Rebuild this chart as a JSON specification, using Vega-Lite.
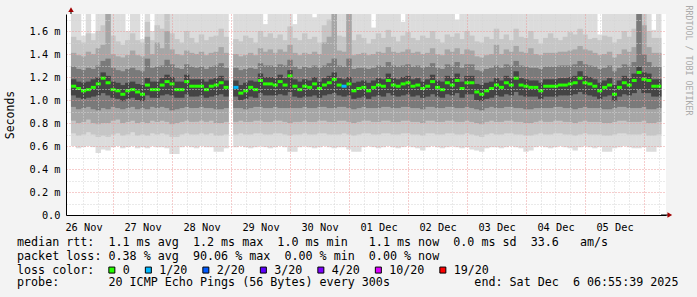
{
"$schema": "https://vega.github.io/schema/vega-lite/v6.json",
"width": 600, "height": 201,
"autosize": {"type": "none"},
"padding": {"left": 66, "top": 14, "right": 31, "bottom": 82},
"background": "#f3f3f3",
"view": {"fill": "#ffffff", "stroke": null},
"config": {"font": "DejaVu Sans Mono"},
"title": {
 "text": [
  "median rtt:\u00a0\u00a01.1 ms avg\u00a0\u00a01.2 ms max\u00a0\u00a01.0 ms min\u00a0\u00a0\u00a01.1 ms now\u00a0\u00a00.0 ms sd\u00a0\u00a033.6\u00a0\u00a0\u00a0am/s",
  "packet loss: 0.38 % avg\u00a0\u00a090.06 % max\u00a0\u00a00.00 % min\u00a0\u00a00.00 % now"
 ],
 "subtitle": "probe:\u00a0\u00a0\u00a0\u00a0\u00a0\u00a0\u00a020 ICMP Echo Pings (56 Bytes) every 300s\u00a0\u00a0\u00a0\u00a0\u00a0\u00a0\u00a0\u00a0\u00a0\u00a0\u00a0\u00a0end: Sat Dec\u00a0\u00a06 06:55:39 2025",
 "orient": "bottom", "anchor": "start", "frame": "group", "dx": -49, "offset": -40,
 "font": "DejaVu Sans Mono", "fontSize": 11.7, "fontWeight": "normal", "color": "#000000", "lineHeight": 14,
 "subtitleFont": "DejaVu Sans Mono", "subtitleFontSize": 11.7, "subtitleFontWeight": "normal", "subtitleColor": "#000000",
 "subtitleLineHeight": 14, "subtitlePadding": 14
},
"data": {"values": [
{"t":8,"m":1.12,"p":0,"a1":0.60,"a2":0.71,"a3":0.82,"a4":0.94,"a5":1.04,"b5":1.18,"b4":1.29,"b3":1.41,"b2":1.55,"b1":1.8},
{"t":10,"m":1.10,"p":0,"a1":0.58,"a2":0.69,"a3":0.80,"a4":0.92,"a5":1.02,"b5":1.16,"b4":1.27,"b3":1.39,"b2":1.52,"b1":1.8},
{"t":12,"m":1.08,"p":0,"a1":0.59,"a2":0.70,"a3":0.81,"a4":0.93,"a5":1.01,"b5":1.15,"b4":1.26,"b3":1.38,"b2":1.50,"b1":1.56},
{"t":14,"m":1.09,"p":0,"a1":0.60,"a2":0.72,"a3":0.83,"a4":0.94,"a5":1.02,"b5":1.16,"b4":1.28,"b3":1.42,"b2":1.58,"b1":1.8},
{"t":16,"m":1.11,"p":0,"a1":0.59,"a2":0.70,"a3":0.80,"a4":0.92,"a5":1.03,"b5":1.18,"b4":1.27,"b3":1.40,"b2":1.52,"b1":1.58},
{"t":18,"m":1.14,"p":0,"a1":0.54,"a2":0.68,"a3":0.79,"a4":0.91,"a5":1.04,"b5":1.20,"b4":1.30,"b3":1.45,"b2":1.60,"b1":1.8},
{"t":20,"m":1.19,"p":0,"a1":0.57,"a2":0.69,"a3":0.80,"a4":0.93,"a5":1.06,"b5":1.24,"b4":1.34,"b3":1.48,"b2":1.65,"b1":1.8},
{"t":22,"m":1.15,"p":0,"a1":0.56,"a2":0.68,"a3":0.80,"a4":0.92,"a5":1.04,"b5":1.21,"b4":1.36,"b3":1.8,"b2":1.8,"b1":1.8},
{"t":24,"m":1.09,"p":0,"a1":0.59,"a2":0.70,"a3":0.82,"a4":0.94,"a5":1.02,"b5":1.16,"b4":1.28,"b3":1.40,"b2":1.56,"b1":1.8},
{"t":26,"m":1.08,"p":0,"a1":0.60,"a2":0.71,"a3":0.83,"a4":0.93,"a5":1.01,"b5":1.15,"b4":1.26,"b3":1.38,"b2":1.51,"b1":1.8},
{"t":28,"m":1.05,"p":0,"a1":0.58,"a2":0.69,"a3":0.80,"a4":0.92,"a5":0.99,"b5":1.13,"b4":1.25,"b3":1.37,"b2":1.48,"b1":1.8},
{"t":30,"m":1.08,"p":0,"a1":0.59,"a2":0.70,"a3":0.81,"a4":0.93,"a5":1.01,"b5":1.15,"b4":1.27,"b3":1.39,"b2":1.52,"b1":1.60},
{"t":32,"m":1.09,"p":0,"a1":0.60,"a2":0.72,"a3":0.82,"a4":0.94,"a5":1.02,"b5":1.16,"b4":1.28,"b3":1.43,"b2":1.58,"b1":1.8},
{"t":34,"m":1.07,"p":0,"a1":0.58,"a2":0.69,"a3":0.80,"a4":0.92,"a5":1.00,"b5":1.14,"b4":1.26,"b3":1.39,"b2":1.52,"b1":1.8},
{"t":36,"m":1.05,"p":0,"a1":0.59,"a2":0.70,"a3":0.81,"a4":0.93,"a5":0.99,"b5":1.13,"b4":1.25,"b3":1.38,"b2":1.50,"b1":1.53},
{"t":38,"m":1.13,"p":0,"a1":0.58,"a2":0.69,"a3":0.80,"a4":0.92,"a5":1.04,"b5":1.19,"b4":1.36,"b3":1.55,"b2":1.68,"b1":1.8},
{"t":40,"m":1.09,"p":0,"a1":0.60,"a2":0.71,"a3":0.82,"a4":0.94,"a5":1.02,"b5":1.16,"b4":1.28,"b3":1.40,"b2":1.52,"b1":1.60},
{"t":42,"m":1.09,"p":0,"a1":0.59,"a2":0.70,"a3":0.81,"a4":0.93,"a5":1.02,"b5":1.16,"b4":1.29,"b3":1.50,"b2":1.65,"b1":1.8},
{"t":44,"m":1.13,"p":0,"a1":0.59,"a2":0.71,"a3":0.82,"a4":0.94,"a5":1.04,"b5":1.19,"b4":1.30,"b3":1.45,"b2":1.62,"b1":1.8},
{"t":46,"m":1.16,"p":0,"a1":0.58,"a2":0.70,"a3":0.81,"a4":0.93,"a5":1.05,"b5":1.22,"b4":1.35,"b3":1.60,"b2":1.8,"b1":1.8},
{"t":48,"m":1.14,"p":0,"a1":0.53,"a2":0.68,"a3":0.79,"a4":0.91,"a5":1.04,"b5":1.20,"b4":1.31,"b3":1.44,"b2":1.58,"b1":1.8},
{"t":50,"m":1.09,"p":0,"a1":0.53,"a2":0.68,"a3":0.80,"a4":0.92,"a5":1.02,"b5":1.16,"b4":1.28,"b3":1.40,"b2":1.53,"b1":1.8},
{"t":52,"m":1.09,"p":0,"a1":0.59,"a2":0.70,"a3":0.81,"a4":0.93,"a5":1.02,"b5":1.16,"b4":1.27,"b3":1.39,"b2":1.50,"b1":1.8},
{"t":54,"m":1.16,"p":0,"a1":0.60,"a2":0.71,"a3":0.82,"a4":0.94,"a5":1.05,"b5":1.22,"b4":1.31,"b3":1.43,"b2":1.60,"b1":1.8},
{"t":56,"m":1.12,"p":0,"a1":0.59,"a2":0.70,"a3":0.81,"a4":0.93,"a5":1.03,"b5":1.18,"b4":1.29,"b3":1.41,"b2":1.54,"b1":1.8},
{"t":58,"m":1.12,"p":0,"a1":0.58,"a2":0.70,"a3":0.81,"a4":0.93,"a5":1.03,"b5":1.18,"b4":1.28,"b3":1.40,"b2":1.50,"b1":1.8},
{"t":60,"m":1.12,"p":0,"a1":0.60,"a2":0.71,"a3":0.82,"a4":0.94,"a5":1.04,"b5":1.18,"b4":1.29,"b3":1.42,"b2":1.57,"b1":1.8},
{"t":62,"m":1.09,"p":0,"a1":0.59,"a2":0.70,"a3":0.81,"a4":0.93,"a5":1.02,"b5":1.16,"b4":1.27,"b3":1.39,"b2":1.52,"b1":1.8},
{"t":64,"m":1.12,"p":0,"a1":0.59,"a2":0.71,"a3":0.82,"a4":0.93,"a5":1.03,"b5":1.18,"b4":1.29,"b3":1.41,"b2":1.55,"b1":1.8},
{"t":66,"m":1.13,"p":0,"a1":0.55,"a2":0.69,"a3":0.80,"a4":0.92,"a5":1.04,"b5":1.19,"b4":1.30,"b3":1.42,"b2":1.56,"b1":1.8},
{"t":68,"m":1.15,"p":0,"a1":0.55,"a2":0.69,"a3":0.80,"a4":0.92,"a5":1.05,"b5":1.21,"b4":1.32,"b3":1.46,"b2":1.62,"b1":1.8},
{"t":70,"m":1.11,"p":0,"a1":0.58,"a2":0.70,"a3":0.81,"a4":0.93,"a5":1.03,"b5":1.17,"b4":1.28,"b3":1.41,"b2":1.55,"b1":1.8},
{"t":74,"m":1.11,"p":1,"a1":0.59,"a2":0.70,"a3":0.81,"a4":0.93,"a5":1.03,"b5":1.17,"b4":1.28,"b3":1.40,"b2":1.53,"b1":1.8},
{"t":76,"m":1.06,"p":0,"a1":0.60,"a2":0.71,"a3":0.82,"a4":0.93,"a5":1.00,"b5":1.13,"b4":1.26,"b3":1.38,"b2":1.51,"b1":1.8},
{"t":78,"m":1.08,"p":0,"a1":0.59,"a2":0.70,"a3":0.81,"a4":0.92,"a5":1.01,"b5":1.15,"b4":1.27,"b3":1.39,"b2":1.56,"b1":1.8},
{"t":80,"m":1.11,"p":0,"a1":0.58,"a2":0.70,"a3":0.81,"a4":0.93,"a5":1.03,"b5":1.17,"b4":1.28,"b3":1.41,"b2":1.54,"b1":1.8},
{"t":82,"m":1.09,"p":0,"a1":0.59,"a2":0.71,"a3":0.82,"a4":0.94,"a5":1.02,"b5":1.16,"b4":1.27,"b3":1.39,"b2":1.50,"b1":1.8},
{"t":84,"m":1.17,"p":0,"a1":0.60,"a2":0.71,"a3":0.82,"a4":0.94,"a5":1.06,"b5":1.23,"b4":1.32,"b3":1.45,"b2":1.60,"b1":1.8},
{"t":86,"m":1.14,"p":0,"a1":0.59,"a2":0.70,"a3":0.81,"a4":0.93,"a5":1.04,"b5":1.20,"b4":1.30,"b3":1.42,"b2":1.55,"b1":1.66},
{"t":88,"m":1.14,"p":0,"a1":0.58,"a2":0.70,"a3":0.81,"a4":0.93,"a5":1.04,"b5":1.20,"b4":1.30,"b3":1.44,"b2":1.58,"b1":1.8},
{"t":90,"m":1.13,"p":0,"a1":0.59,"a2":0.71,"a3":0.82,"a4":0.94,"a5":1.04,"b5":1.19,"b4":1.29,"b3":1.41,"b2":1.54,"b1":1.8},
{"t":92,"m":1.16,"p":0,"a1":0.60,"a2":0.71,"a3":0.82,"a4":0.93,"a5":1.05,"b5":1.22,"b4":1.31,"b3":1.44,"b2":1.57,"b1":1.8},
{"t":94,"m":1.13,"p":0,"a1":0.59,"a2":0.70,"a3":0.81,"a4":0.93,"a5":1.04,"b5":1.19,"b4":1.30,"b3":1.42,"b2":1.52,"b1":1.8},
{"t":96,"m":1.21,"p":0,"a1":0.55,"a2":0.69,"a3":0.80,"a4":0.93,"a5":1.07,"b5":1.26,"b4":1.35,"b3":1.48,"b2":1.64,"b1":1.8},
{"t":98,"m":1.12,"p":0,"a1":0.55,"a2":0.70,"a3":0.81,"a4":0.93,"a5":1.03,"b5":1.18,"b4":1.29,"b3":1.41,"b2":1.54,"b1":1.66},
{"t":100,"m":1.09,"p":0,"a1":0.59,"a2":0.70,"a3":0.81,"a4":0.93,"a5":1.02,"b5":1.16,"b4":1.27,"b3":1.39,"b2":1.52,"b1":1.8},
{"t":102,"m":1.12,"p":0,"a1":0.60,"a2":0.71,"a3":0.82,"a4":0.94,"a5":1.03,"b5":1.18,"b4":1.29,"b3":1.41,"b2":1.58,"b1":1.8},
{"t":104,"m":1.11,"p":0,"a1":0.59,"a2":0.70,"a3":0.81,"a4":0.93,"a5":1.03,"b5":1.17,"b4":1.28,"b3":1.40,"b2":1.53,"b1":1.8},
{"t":106,"m":1.14,"p":0,"a1":0.58,"a2":0.70,"a3":0.81,"a4":0.93,"a5":1.04,"b5":1.20,"b4":1.30,"b3":1.42,"b2":1.55,"b1":1.72},
{"t":108,"m":1.10,"p":0,"a1":0.59,"a2":0.71,"a3":0.82,"a4":0.94,"a5":1.02,"b5":1.16,"b4":1.28,"b3":1.40,"b2":1.50,"b1":1.8},
{"t":110,"m":1.13,"p":0,"a1":0.60,"a2":0.71,"a3":0.82,"a4":0.94,"a5":1.04,"b5":1.19,"b4":1.30,"b3":1.50,"b2":1.65,"b1":1.8},
{"t":112,"m":1.15,"p":0,"a1":0.59,"a2":0.70,"a3":0.81,"a4":0.93,"a5":1.05,"b5":1.21,"b4":1.32,"b3":1.55,"b2":1.70,"b1":1.8},
{"t":114,"m":1.18,"p":0,"a1":0.58,"a2":0.70,"a3":0.81,"a4":0.93,"a5":1.06,"b5":1.24,"b4":1.36,"b3":1.8,"b2":1.8,"b1":1.8},
{"t":116,"m":1.13,"p":0,"a1":0.59,"a2":0.70,"a3":0.82,"a4":0.94,"a5":1.04,"b5":1.19,"b4":1.30,"b3":1.43,"b2":1.56,"b1":1.8},
{"t":118,"m":1.12,"p":1,"a1":0.59,"a2":0.71,"a3":0.82,"a4":0.94,"a5":1.03,"b5":1.18,"b4":1.29,"b3":1.42,"b2":1.55,"b1":1.8},
{"t":120,"m":1.14,"p":0,"a1":0.57,"a2":0.70,"a3":0.81,"a4":0.93,"a5":1.04,"b5":1.20,"b4":1.36,"b3":1.8,"b2":1.8,"b1":1.8},
{"t":122,"m":1.08,"p":0,"a1":0.55,"a2":0.69,"a3":0.80,"a4":0.92,"a5":1.01,"b5":1.15,"b4":1.27,"b3":1.39,"b2":1.52,"b1":1.8},
{"t":124,"m":1.10,"p":0,"a1":0.55,"a2":0.70,"a3":0.81,"a4":0.93,"a5":1.02,"b5":1.16,"b4":1.28,"b3":1.40,"b2":1.57,"b1":1.8},
{"t":126,"m":1.11,"p":0,"a1":0.59,"a2":0.71,"a3":0.82,"a4":0.94,"a5":1.03,"b5":1.17,"b4":1.28,"b3":1.41,"b2":1.54,"b1":1.8},
{"t":128,"m":1.08,"p":0,"a1":0.60,"a2":0.71,"a3":0.82,"a4":0.93,"a5":1.01,"b5":1.15,"b4":1.27,"b3":1.39,"b2":1.49,"b1":1.8},
{"t":130,"m":1.11,"p":0,"a1":0.59,"a2":0.70,"a3":0.81,"a4":0.93,"a5":1.03,"b5":1.17,"b4":1.28,"b3":1.40,"b2":1.53,"b1":1.63},
{"t":132,"m":1.13,"p":0,"a1":0.58,"a2":0.70,"a3":0.81,"a4":0.93,"a5":1.04,"b5":1.19,"b4":1.30,"b3":1.42,"b2":1.58,"b1":1.8},
{"t":134,"m":1.12,"p":0,"a1":0.59,"a2":0.71,"a3":0.82,"a4":0.94,"a5":1.03,"b5":1.18,"b4":1.29,"b3":1.41,"b2":1.54,"b1":1.8},
{"t":136,"m":1.17,"p":0,"a1":0.60,"a2":0.71,"a3":0.82,"a4":0.94,"a5":1.06,"b5":1.23,"b4":1.33,"b3":1.46,"b2":1.61,"b1":1.8},
{"t":138,"m":1.13,"p":0,"a1":0.59,"a2":0.70,"a3":0.81,"a4":0.93,"a5":1.04,"b5":1.19,"b4":1.30,"b3":1.42,"b2":1.55,"b1":1.8},
{"t":140,"m":1.12,"p":0,"a1":0.58,"a2":0.70,"a3":0.81,"a4":0.93,"a5":1.03,"b5":1.18,"b4":1.29,"b3":1.41,"b2":1.51,"b1":1.8},
{"t":142,"m":1.14,"p":0,"a1":0.59,"a2":0.71,"a3":0.82,"a4":0.94,"a5":1.04,"b5":1.20,"b4":1.30,"b3":1.42,"b2":1.56,"b1":1.68},
{"t":144,"m":1.15,"p":0,"a1":0.60,"a2":0.71,"a3":0.82,"a4":0.94,"a5":1.05,"b5":1.21,"b4":1.31,"b3":1.44,"b2":1.59,"b1":1.8},
{"t":146,"m":1.12,"p":0,"a1":0.59,"a2":0.70,"a3":0.81,"a4":0.93,"a5":1.03,"b5":1.18,"b4":1.29,"b3":1.41,"b2":1.54,"b1":1.8},
{"t":148,"m":1.13,"p":0,"a1":0.58,"a2":0.70,"a3":0.81,"a4":0.93,"a5":1.04,"b5":1.19,"b4":1.30,"b3":1.42,"b2":1.52,"b1":1.8},
{"t":150,"m":1.10,"p":0,"a1":0.56,"a2":0.69,"a3":0.80,"a4":0.92,"a5":1.02,"b5":1.16,"b4":1.28,"b3":1.40,"b2":1.56,"b1":1.8},
{"t":152,"m":1.12,"p":0,"a1":0.59,"a2":0.71,"a3":0.82,"a4":0.94,"a5":1.03,"b5":1.18,"b4":1.29,"b3":1.41,"b2":1.54,"b1":1.8},
{"t":154,"m":1.16,"p":0,"a1":0.60,"a2":0.71,"a3":0.82,"a4":0.94,"a5":1.05,"b5":1.22,"b4":1.32,"b3":1.45,"b2":1.60,"b1":1.8},
{"t":156,"m":1.11,"p":0,"a1":0.59,"a2":0.70,"a3":0.81,"a4":0.93,"a5":1.03,"b5":1.17,"b4":1.28,"b3":1.40,"b2":1.53,"b1":1.8},
{"t":158,"m":1.09,"p":0,"a1":0.58,"a2":0.70,"a3":0.81,"a4":0.93,"a5":1.02,"b5":1.16,"b4":1.27,"b3":1.39,"b2":1.50,"b1":1.8},
{"t":160,"m":1.15,"p":0,"a1":0.59,"a2":0.71,"a3":0.82,"a4":0.94,"a5":1.05,"b5":1.21,"b4":1.31,"b3":1.44,"b2":1.57,"b1":1.8},
{"t":162,"m":1.13,"p":0,"a1":0.60,"a2":0.71,"a3":0.82,"a4":0.94,"a5":1.04,"b5":1.19,"b4":1.30,"b3":1.42,"b2":1.55,"b1":1.8},
{"t":164,"m":1.17,"p":0,"a1":0.59,"a2":0.70,"a3":0.81,"a4":0.93,"a5":1.06,"b5":1.23,"b4":1.33,"b3":1.45,"b2":1.58,"b1":1.70},
{"t":166,"m":1.10,"p":0,"a1":0.58,"a2":0.70,"a3":0.81,"a4":0.93,"a5":1.02,"b5":1.16,"b4":1.28,"b3":1.40,"b2":1.53,"b1":1.8},
{"t":168,"m":1.15,"p":0,"a1":0.59,"a2":0.71,"a3":0.82,"a4":0.94,"a5":1.05,"b5":1.21,"b4":1.31,"b3":1.44,"b2":1.60,"b1":1.8},
{"t":170,"m":1.15,"p":0,"a1":0.57,"a2":0.70,"a3":0.81,"a4":0.93,"a5":1.05,"b5":1.21,"b4":1.31,"b3":1.43,"b2":1.56,"b1":1.8},
{"t":172,"m":1.07,"p":0,"a1":0.56,"a2":0.69,"a3":0.80,"a4":0.92,"a5":1.00,"b5":1.14,"b4":1.26,"b3":1.38,"b2":1.51,"b1":1.8},
{"t":174,"m":1.05,"p":0,"a1":0.55,"a2":0.68,"a3":0.79,"a4":0.91,"a5":0.99,"b5":1.13,"b4":1.25,"b3":1.37,"b2":1.50,"b1":1.8},
{"t":176,"m":1.08,"p":0,"a1":0.58,"a2":0.70,"a3":0.81,"a4":0.93,"a5":1.01,"b5":1.15,"b4":1.27,"b3":1.39,"b2":1.55,"b1":1.8},
{"t":178,"m":1.10,"p":0,"a1":0.59,"a2":0.71,"a3":0.82,"a4":0.94,"a5":1.02,"b5":1.16,"b4":1.28,"b3":1.40,"b2":1.53,"b1":1.8},
{"t":180,"m":1.13,"p":0,"a1":0.59,"a2":0.70,"a3":0.81,"a4":0.93,"a5":1.04,"b5":1.19,"b4":1.30,"b3":1.48,"b2":1.62,"b1":1.8},
{"t":182,"m":1.11,"p":0,"a1":0.58,"a2":0.70,"a3":0.81,"a4":0.93,"a5":1.03,"b5":1.17,"b4":1.28,"b3":1.40,"b2":1.53,"b1":1.8},
{"t":184,"m":1.15,"p":0,"a1":0.59,"a2":0.71,"a3":0.82,"a4":0.94,"a5":1.05,"b5":1.21,"b4":1.31,"b3":1.44,"b2":1.57,"b1":1.8},
{"t":186,"m":1.13,"p":0,"a1":0.60,"a2":0.71,"a3":0.82,"a4":0.94,"a5":1.04,"b5":1.19,"b4":1.30,"b3":1.42,"b2":1.52,"b1":1.8},
{"t":188,"m":1.19,"p":0,"a1":0.59,"a2":0.70,"a3":0.81,"a4":0.93,"a5":1.07,"b5":1.25,"b4":1.34,"b3":1.47,"b2":1.62,"b1":1.8},
{"t":190,"m":1.13,"p":0,"a1":0.58,"a2":0.70,"a3":0.81,"a4":0.93,"a5":1.04,"b5":1.19,"b4":1.30,"b3":1.42,"b2":1.55,"b1":1.8},
{"t":192,"m":1.12,"p":0,"a1":0.55,"a2":0.69,"a3":0.80,"a4":0.92,"a5":1.03,"b5":1.18,"b4":1.29,"b3":1.41,"b2":1.54,"b1":1.8},
{"t":194,"m":1.11,"p":0,"a1":0.56,"a2":0.69,"a3":0.80,"a4":0.92,"a5":1.03,"b5":1.17,"b4":1.28,"b3":1.45,"b2":1.60,"b1":1.8},
{"t":196,"m":1.11,"p":0,"a1":0.59,"a2":0.70,"a3":0.81,"a4":0.93,"a5":1.03,"b5":1.17,"b4":1.28,"b3":1.40,"b2":1.53,"b1":1.8},
{"t":198,"m":1.08,"p":0,"a1":0.60,"a2":0.71,"a3":0.82,"a4":0.93,"a5":1.01,"b5":1.15,"b4":1.27,"b3":1.39,"b2":1.49,"b1":1.8},
{"t":200,"m":1.12,"p":0,"a1":0.59,"a2":0.70,"a3":0.81,"a4":0.93,"a5":1.03,"b5":1.18,"b4":1.29,"b3":1.41,"b2":1.54,"b1":1.8},
{"t":202,"m":1.12,"p":0,"a1":0.58,"a2":0.70,"a3":0.81,"a4":0.93,"a5":1.03,"b5":1.18,"b4":1.29,"b3":1.41,"b2":1.58,"b1":1.8},
{"t":204,"m":1.12,"p":0,"a1":0.59,"a2":0.71,"a3":0.82,"a4":0.94,"a5":1.03,"b5":1.18,"b4":1.29,"b3":1.41,"b2":1.54,"b1":1.8},
{"t":206,"m":1.13,"p":0,"a1":0.60,"a2":0.71,"a3":0.82,"a4":0.94,"a5":1.04,"b5":1.19,"b4":1.30,"b3":1.42,"b2":1.52,"b1":1.8},
{"t":208,"m":1.13,"p":0,"a1":0.59,"a2":0.70,"a3":0.81,"a4":0.93,"a5":1.04,"b5":1.19,"b4":1.30,"b3":1.42,"b2":1.55,"b1":1.8},
{"t":210,"m":1.14,"p":0,"a1":0.58,"a2":0.70,"a3":0.81,"a4":0.93,"a5":1.04,"b5":1.20,"b4":1.30,"b3":1.43,"b2":1.59,"b1":1.8},
{"t":212,"m":1.15,"p":0,"a1":0.56,"a2":0.69,"a3":0.80,"a4":0.92,"a5":1.05,"b5":1.21,"b4":1.31,"b3":1.44,"b2":1.57,"b1":1.8},
{"t":214,"m":1.19,"p":0,"a1":0.59,"a2":0.70,"a3":0.81,"a4":0.93,"a5":1.07,"b5":1.25,"b4":1.34,"b3":1.47,"b2":1.62,"b1":1.8},
{"t":216,"m":1.15,"p":0,"a1":0.60,"a2":0.71,"a3":0.82,"a4":0.94,"a5":1.05,"b5":1.21,"b4":1.31,"b3":1.44,"b2":1.57,"b1":1.8},
{"t":218,"m":1.14,"p":0,"a1":0.59,"a2":0.70,"a3":0.81,"a4":0.93,"a5":1.04,"b5":1.20,"b4":1.30,"b3":1.43,"b2":1.53,"b1":1.8},
{"t":220,"m":1.12,"p":0,"a1":0.58,"a2":0.70,"a3":0.81,"a4":0.93,"a5":1.03,"b5":1.18,"b4":1.29,"b3":1.41,"b2":1.54,"b1":1.8},
{"t":222,"m":1.08,"p":0,"a1":0.59,"a2":0.70,"a3":0.81,"a4":0.93,"a5":1.01,"b5":1.15,"b4":1.27,"b3":1.39,"b2":1.52,"b1":1.57},
{"t":224,"m":1.11,"p":0,"a1":0.55,"a2":0.69,"a3":0.80,"a4":0.92,"a5":1.03,"b5":1.17,"b4":1.28,"b3":1.40,"b2":1.56,"b1":1.8},
{"t":226,"m":1.13,"p":0,"a1":0.55,"a2":0.69,"a3":0.80,"a4":0.92,"a5":1.04,"b5":1.19,"b4":1.30,"b3":1.42,"b2":1.55,"b1":1.8},
{"t":228,"m":1.05,"p":0,"a1":0.58,"a2":0.70,"a3":0.81,"a4":0.93,"a5":0.99,"b5":1.13,"b4":1.25,"b3":1.37,"b2":1.50,"b1":1.8},
{"t":230,"m":1.11,"p":0,"a1":0.59,"a2":0.71,"a3":0.82,"a4":0.94,"a5":1.03,"b5":1.17,"b4":1.28,"b3":1.40,"b2":1.53,"b1":1.8},
{"t":232,"m":1.15,"p":0,"a1":0.60,"a2":0.71,"a3":0.82,"a4":0.94,"a5":1.05,"b5":1.21,"b4":1.31,"b3":1.44,"b2":1.60,"b1":1.8},
{"t":234,"m":1.13,"p":0,"a1":0.59,"a2":0.70,"a3":0.81,"a4":0.93,"a5":1.04,"b5":1.19,"b4":1.30,"b3":1.42,"b2":1.55,"b1":1.8},
{"t":236,"m":1.17,"p":0,"a1":0.58,"a2":0.70,"a3":0.81,"a4":0.93,"a5":1.06,"b5":1.23,"b4":1.33,"b3":1.46,"b2":1.62,"b1":1.8},
{"t":238,"m":1.24,"p":0,"a1":0.58,"a2":0.70,"a3":0.81,"a4":0.93,"a5":1.09,"b5":1.29,"b4":1.8,"b3":1.8,"b2":1.8,"b1":1.8},
{"t":240,"m":1.18,"p":0,"a1":0.59,"a2":0.71,"a3":0.82,"a4":0.94,"a5":1.06,"b5":1.24,"b4":1.40,"b3":1.65,"b2":1.8,"b1":1.8},
{"t":242,"m":1.17,"p":0,"a1":0.55,"a2":0.69,"a3":0.80,"a4":0.92,"a5":1.06,"b5":1.23,"b4":1.33,"b3":1.46,"b2":1.60,"b1":1.8},
{"t":244,"m":1.12,"p":0,"a1":0.55,"a2":0.69,"a3":0.80,"a4":0.92,"a5":1.03,"b5":1.18,"b4":1.29,"b3":1.41,"b2":1.54,"b1":1.61},
{"t":246,"m":1.12,"p":0,"a1":0.59,"a2":0.70,"a3":0.81,"a4":0.93,"a5":1.03,"b5":1.18,"b4":1.29,"b3":1.41,"b2":1.54,"b1":1.8}
]},
"encoding": {
 "x": {"field": "t", "type": "quantitative",
  "scale": {"domain": [6.917, 246.917], "nice": false, "zero": false},
  "axis": {"title": null,
   "values": [12,18,24,30,36,42,48,54,60,66,72,78,84,90,96,102,108,114,120,126,132,138,144,150,156,162,168,174,180,186,192,198,204,210,216,222,228,234,240,246],
   "labelExpr": "datum.value % 24 === 12 ? timeFormat(datetime(2025, 10, 26 + floor(datum.value / 24)), '%d %b') : ''",
   "labelFont": "DejaVu Sans Mono", "labelFontSize": 10.3, "labelColor": "#000000", "labelPadding": 7,
   "labelOverlap": false, "labelFlush": false, "labelBound": false,
   "ticks": false, "domainColor": "#000000", "domainWidth": 1,
   "grid": true,
   "gridColor": {"condition": {"test": "datum.value % 24 === 0", "value": "#ec9a9a"}, "value": "#d4d4d4"},
   "gridDash": [1, 2], "gridWidth": 1, "zindex": 1}}
},
"layer": [
 {"mark": {"type": "bar", "width": 5.4, "color": "#dcdcdc", "clip": true},
  "encoding": {"y": {"field": "a1", "type": "quantitative", "scale": {"domain": [0, 1.748], "nice": false, "zero": false},
    "axis": {"title": "Seconds",
     "values": [0,0.1,0.2,0.3,0.4,0.5,0.6,0.7,0.8,0.9,1,1.1,1.2,1.3,1.4,1.5,1.6,1.7],
     "labelExpr": "round(datum.value * 10) % 2 === 0 ? (datum.value === 0 ? '0.0' : format(datum.value, '.1f') + ' m') : ''",
     "labelFont": "DejaVu Sans Mono", "labelFontSize": 10.3, "labelColor": "#000000", "labelPadding": 6,
     "labelOverlap": false, "labelFlush": false, "labelBound": false,
     "ticks": false, "domainColor": "#000000", "domainWidth": 1,
     "grid": true,
     "gridColor": {"condition": {"test": "round(datum.value * 10) % 2 === 0", "value": "#ec9a9a"}, "value": "#d4d4d4"},
     "gridDash": [1, 2], "gridWidth": 1, "zindex": 1,
     "titleFont": "DejaVu Sans Mono", "titleFontSize": 11.5, "titleFontWeight": "normal", "titleColor": "#000000",
     "titleAngle": 270, "titleX": -56, "titleY": 100.5, "titleAlign": "center", "titleBaseline": "middle"}},
   "y2": {"field": "b1"}}},
 {"mark": {"type": "bar", "width": 5.4, "color": "#c6c6c6", "clip": true},
  "encoding": {"y": {"field": "a2", "type": "quantitative", "scale": {"domain": [0, 1.748], "nice": false, "zero": false}, "axis": null},
   "y2": {"field": "b2"}}},
 {"mark": {"type": "bar", "width": 5.4, "color": "#a6a6a6", "clip": true},
  "encoding": {"y": {"field": "a3", "type": "quantitative", "scale": {"domain": [0, 1.748], "nice": false, "zero": false}, "axis": null},
   "y2": {"field": "b3"}}},
 {"mark": {"type": "bar", "width": 5.4, "color": "#7a7a7a", "clip": true},
  "encoding": {"y": {"field": "a4", "type": "quantitative", "scale": {"domain": [0, 1.748], "nice": false, "zero": false}, "axis": null},
   "y2": {"field": "b4"}}},
 {"mark": {"type": "bar", "width": 5.4, "color": "#444444", "clip": true},
  "encoding": {"y": {"field": "a5", "type": "quantitative", "scale": {"domain": [0, 1.748], "nice": false, "zero": false}, "axis": null},
   "y2": {"field": "b5"}}},
 {"mark": {"type": "tick", "orient": "horizontal", "size": 5, "thickness": 3, "opacity": 1, "clip": true},
  "encoding": {
   "y": {"field": "m", "type": "quantitative", "scale": {"domain": [0, 1.748], "nice": false, "zero": false},
    "axis": {"orient": "right", "title": "RRDTOOL / TOBI OETIKER", "labels": false, "ticks": false, "domain": false, "grid": false,
     "titleFont": "DejaVu Sans Mono", "titleFontSize": 8.3, "titleFontWeight": "normal", "titleColor": "#aaaaaa",
     "titleAngle": 90, "titleX": 21, "titleY": 46, "titleAlign": "center", "titleBaseline": "middle"}},
   "color": {"field": "p", "type": "ordinal",
    "scale": {"domain": [0, 1, 2, 3, 4, 10, 19], "range": ["#26ff00", "#00b8ff", "#0059ff", "#5e00ff", "#7e00ff", "#dd00ff", "#ff0000"]},
    "legend": {"orient": "none", "legendX": -49, "legendY": 250, "direction": "horizontal",
     "title": "loss color:", "titleOrient": "left", "titlePadding": 11,
     "titleFont": "DejaVu Sans Mono", "titleFontSize": 11.7, "titleFontWeight": "normal", "titleColor": "#000000",
     "labelFont": "DejaVu Sans Mono", "labelFontSize": 11.7, "labelColor": "#000000",
     "labelExpr": "datum.value == 0 ? '0' : datum.value + '/20'",
     "symbolType": "square", "symbolSize": 36, "symbolStrokeColor": "#000000", "symbolStrokeWidth": 1, "symbolOpacity": 1,
     "labelOffset": 5, "columnPadding": 12.5}}}},
 {"data": {"values": [{"t": 246.917, "t2": 250, "v": 0, "v2": 0}, {"t": 6.917, "t2": 6.917, "v": 1.748, "v2": 1.78}]},
  "mark": {"type": "rule", "color": "#000000", "strokeWidth": 1},
  "encoding": {"x2": {"field": "t2"},
   "y": {"field": "v", "type": "quantitative", "scale": {"domain": [0, 1.748], "nice": false, "zero": false}, "axis": null},
   "y2": {"field": "v2"}}},
 {"data": {"values": [{"t": 250.5, "v": 0, "s": "x"}, {"t": 6.917, "v": 1.785, "s": "y"}]},
  "mark": {"type": "point", "filled": true, "size": 30, "color": "#a00000", "opacity": 1},
  "encoding": {
   "y": {"field": "v", "type": "quantitative", "scale": {"domain": [0, 1.748], "nice": false, "zero": false}, "axis": null},
   "shape": {"field": "s", "type": "nominal", "scale": {"domain": ["x", "y"], "range": ["triangle-right", "triangle-up"]}, "legend": null}}}
],
"resolve": {"axis": {"y": "independent"}}
}
